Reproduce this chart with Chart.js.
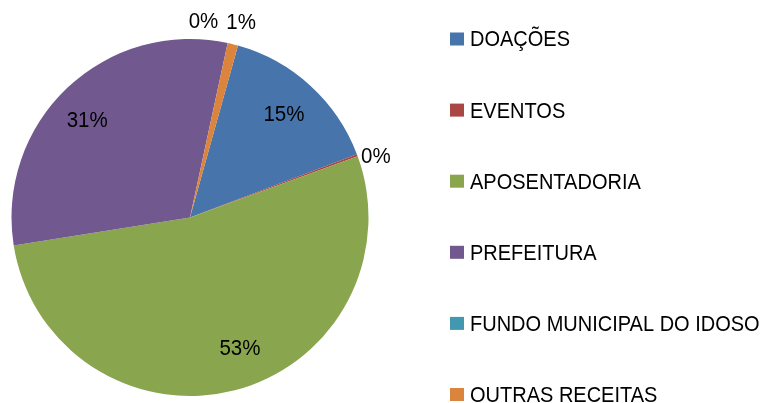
<!DOCTYPE html>
<html>
<head>
<meta charset="utf-8">
<script src="https://cdn.jsdelivr.net/npm/chart.js@4.4.1/dist/chart.umd.min.js"></script>
<style>
  html, body { margin: 0; padding: 0; background: #ffffff; }
  #wrap { width: 774px; height: 403px; position: relative; }
</style>
</head>
<body>
<div id="wrap"><canvas id="c" width="774" height="403"></canvas></div>
<script>
// ---- data ----
const categories = ['DOAÇÕES', 'EVENTOS', 'APOSENTADORIA', 'PREFEITURA', 'FUNDO MUNICIPAL DO IDOSO', 'OUTRAS RECEITAS'];
const shares = [14.9, 0.2, 53.1, 30.9, 0, 0.95];
const percentLabels = ['15%', '0%', '53%', '31%', '0%', '1%'];
const sliceColors = ['#4674AB', '#AA4643', '#89A54E', '#71588F', '#4198AF', '#DB843D'];

const FONT = '"Liberation Sans", Arial, sans-serif';

// label placement (style only)
const labelPlace = [
  { mode: 'in', frac: 0.78, dAng: 0 },
  { mode: 'out', gap: 4, align: 'left', dx: 0, dy: 3 },
  { mode: 'in', frac: 0.79, dAng: -6.2 },
  { mode: 'in', frac: 0.79, dAng: -3.4 },
  { mode: 'out', gap: 18, align: 'center', dx: -28, dy: -3 },
  { mode: 'out', gap: 18, align: 'center', dx: 4, dy: -4 }
];

function tallText(ctx, text, x, y, sy) {
  ctx.save();
  ctx.translate(x, y);
  ctx.scale(1, sy);
  ctx.fillText(text, 0, 0);
  ctx.restore();
}

const labelPlugin = {
  id: 'sliceLabels',
  afterDatasetsDraw(chart) {
    const ctx = chart.ctx;
    const meta = chart.getDatasetMeta(0);
    ctx.save();
    ctx.font = '20.5px ' + FONT;
    ctx.fillStyle = '#000000';
    ctx.textBaseline = 'middle';
    meta.data.forEach((arc, i) => {
      const p = arc.getProps(['x', 'y', 'startAngle', 'endAngle', 'outerRadius'], true);
      const cfg = labelPlace[i];
      let mid = (p.startAngle + p.endAngle) / 2;
      let x, y;
      if (cfg.mode === 'in') {
        mid += cfg.dAng * Math.PI / 180;
        const d = p.outerRadius * cfg.frac;
        x = p.x + Math.cos(mid) * d;
        y = p.y + Math.sin(mid) * d;
        ctx.textAlign = 'center';
      } else {
        const d = p.outerRadius + cfg.gap;
        x = p.x + Math.cos(mid) * d + cfg.dx;
        y = p.y + Math.sin(mid) * d + cfg.dy;
        ctx.textAlign = cfg.align;
      }
      tallText(ctx, percentLabels[i], x, y, 1.06);
    });
    ctx.restore();
  }
};

const legendPlugin = {
  id: 'sideLegend',
  afterDraw(chart) {
    const ctx = chart.ctx;
    const x0 = 450, y0 = 39.5, step = 71.1, box = 14;
    ctx.save();
    ctx.font = '20px ' + FONT;
    ctx.textBaseline = 'middle';
    ctx.textAlign = 'left';
    chart.data.labels.forEach((lab, i) => {
      const cy = y0 + i * step;
      ctx.fillStyle = chart.data.datasets[0].backgroundColor[i];
      ctx.fillRect(x0, cy - box / 2, box, box - 1);
      ctx.fillStyle = '#000000';
      tallText(ctx, lab, x0 + 20, cy + 1, 1.07);
    });
    ctx.restore();
  }
};

new Chart(document.getElementById('c'), {
  type: 'pie',
  data: {
    labels: categories,
    datasets: [{
      data: shares,
      backgroundColor: sliceColors,
      borderWidth: 0
    }]
  },
  options: {
    responsive: false,
    animation: false,
    rotation: 15.6,
    layout: { padding: { left: 11, top: 39, right: 405, bottom: 7 } },
    plugins: {
      legend: { display: false },
      tooltip: { enabled: false },
      title: { display: false }
    }
  },
  plugins: [labelPlugin, legendPlugin]
});
</script>
</body>
</html>
